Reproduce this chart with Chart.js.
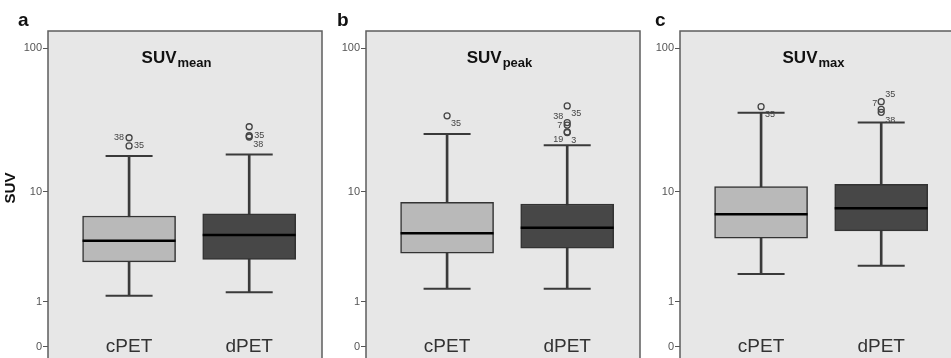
<!DOCTYPE html>
<html>
<head>
<meta charset="utf-8">
<script src="https://cdn.jsdelivr.net/npm/chart.js@4/dist/chart.umd.min.js"></script>
<style>
  html, body { margin: 0; padding: 0; background: #fff; overflow: hidden; }
  #wrap { position: relative; width: 951px; height: 358px; overflow: hidden; }
  canvas { position: absolute; top: 0; }
</style>
</head>
<body>
<div id="wrap">
  <canvas id="panelA" width="323" height="374" style="left:0px"></canvas>
  <canvas id="panelB" width="323" height="374" style="left:318px"></canvas>
  <canvas id="panelC" width="323" height="374" style="left:632px"></canvas>
</div>
<script>
// Gruppen, Panels und Achsenbeschriftung
const categories = ['cPET', 'dPET'];
const panelLetters = ['a', 'b', 'c'];
const panelSubscripts = ['mean', 'peak', 'max'];
const yTicks = [0, 1, 10, 100];

// Boxplots: [unterer Whisker, Q1, Median, Q3, oberer Whisker]
const suvMeanBoxes = [[1.20, 2.71, 4.15, 6.55, 18.1], [1.32, 2.86, 4.63, 6.79, 18.5]];
const suvPeakBoxes = [[1.45, 3.24, 4.78, 8.33, 25.8], [1.45, 3.58, 5.30, 8.09, 21.5]];
const suvMaxBoxes = [[2.08, 4.35, 6.75, 10.9, 36.3], [2.50, 4.99, 7.50, 11.3, 31.0]];

// Ausreißer: [Wert, Fallnummer]
const suvMeanOutliers = [[[24.3, '38'], [21.3, '35']], [[29.0, ''], [25.1, '35'], [24.6, '38']]];
const suvPeakOutliers = [[[34.5, '35']], [[40.4, '35'], [31.0, '38'], [29.8, '7'], [26.7, '19'], [26.4, '3']]];
const suvMaxOutliers = [[[39.9, '35']], [[43.2, '35'], [38.3, '7'], [36.5, '38']]];

// Position der Fallnummern relativ zum Punkt (nur Styling)
const suvMeanLabelPos = [['l', 'r'], ['', 'r', 'rb']];
const suvPeakLabelPos = [['rb'], ['rb', 'la', 'l', 'lb', 'rb']];
const suvMaxLabelPos = [['rb'], ['ra', 'la', 'rb']];
const labelOffsets = { r: [5, 0], l: [-5, 0], rb: [4, 8], lb: [-4, 8], ra: [4, -7], la: [-4, -6] };

const boxColors = ['#b9b9b9', '#474747'];
const FONT = '"Liberation Sans", Arial, sans-serif';

// SPSS "safe log": sign(v) * log10(|v| + 1)
function safeLog(v) {
    return Math.sign(v) * Math.log10(Math.abs(v) + 1);
}

class SafeLogScale extends Chart.LinearScale {
    determineDataLimits() {
        this.min = this.options.min;
        this.max = this.options.max;
    }
    buildTicks() {
        return yTicks.map(v => ({ value: v }));
    }
    configure() {
        super.configure();
        this._fMin = safeLog(this.min);
        this._fMax = safeLog(this.max);
    }
    getPixelForValue(value) {
        return this.getPixelForDecimal((safeLog(value) - this._fMin) / (this._fMax - this._fMin));
    }
    getValueForPixel(pixel) {
        const f = this._fMin + this.getDecimalForPixel(pixel) * (this._fMax - this._fMin);
        return Math.sign(f) * (Math.pow(10, Math.abs(f)) - 1);
    }
}
SafeLogScale.id = 'safelog';
SafeLogScale.defaults = {};
Chart.register(SafeLogScale);

// Rahmen, Titel, Buchstaben und Beschriftungen
const panelDecor = {
    id: 'panelDecor',
    beforeDraw(chart) {
        const { ctx, chartArea: a } = chart;
        ctx.save();
        ctx.fillStyle = '#e7e7e7';
        ctx.fillRect(a.left, a.top, a.right - a.left, a.bottom - a.top);
        ctx.restore();
    },
    afterDraw(chart, args, opts) {
        const { ctx, chartArea: a } = chart;
        ctx.save();
        ctx.strokeStyle = '#5e5e5e';
        ctx.lineWidth = 1.5;
        ctx.strokeRect(a.left, a.top, a.right - a.left, a.bottom - a.top);

        // Panel-Buchstabe
        ctx.fillStyle = '#111';
        ctx.textAlign = 'left';
        ctx.textBaseline = 'alphabetic';
        ctx.font = 'bold 19px ' + FONT;
        ctx.fillText(opts.letter, opts.letterX, 26);

        // Titel SUV + tiefgestellt
        ctx.font = 'bold 17px ' + FONT;
        const w1 = ctx.measureText('SUV').width;
        ctx.font = 'bold 13px ' + FONT;
        const w2 = ctx.measureText(opts.sub).width;
        const x0 = (a.left + a.right) / 2 - opts.titleShift - (w1 + w2) / 2;
        ctx.font = 'bold 17px ' + FONT;
        ctx.fillText('SUV', x0, 63);
        ctx.font = 'bold 13px ' + FONT;
        ctx.fillText(opts.sub, x0 + w1 + 1, 67);

        // Gruppen im Plot
        const xs = chart.scales.x;
        ctx.fillStyle = '#333';
        ctx.textAlign = 'center';
        ctx.font = '19px ' + FONT;
        categories.forEach((c, i) => ctx.fillText(c, xs.getPixelForValue(i + 1), 352));

        // Fallnummern der Ausreißer
        const meta = chart.getDatasetMeta(opts.outlierIndex);
        ctx.font = '9px ' + FONT;
        ctx.fillStyle = '#444';
        ctx.textBaseline = 'middle';
        opts.labels.forEach((lab, k) => {
            const pos = opts.positions[k];
            if (!lab || !pos) return;
            const el = meta.data[k];
            const [dx, dy] = labelOffsets[pos];
            ctx.textAlign = dx > 0 ? 'left' : 'right';
            ctx.fillText(lab, el.x + dx, el.y + dy);
        });

        // y-Achsentitel
        if (opts.yTitle) {
            ctx.translate(11, 188);
            ctx.rotate(-Math.PI / 2);
            ctx.textAlign = 'center';
            ctx.fillStyle = '#111';
            ctx.font = 'bold 15px ' + FONT;
            ctx.fillText(opts.yTitle, 0, 0);
        }
        ctx.restore();
    }
};

function makePanel(canvasId, idx, boxes, outliers, labelPos) {
    const whiskers = boxes.map((b, i) => ({ x: i + 1, y: [b[0], b[4]] }));
    const iqr = boxes.map((b, i) => ({ x: i + 1, y: [b[1], b[3]] }));
    const medians = boxes.map((b, i) => ({ x: i + 1, y: b[2] }));
    const caps = boxes.flatMap((b, i) => [{ x: i + 1, y: b[0] }, { x: i + 1, y: b[4] }]);
    const outPts = outliers.flatMap((list, i) => list.map(o => ({ x: i + 1, y: o[0] })));
    const outLabels = outliers.flatMap(list => list.map(o => o[1]));
    const outPos = labelPos.flat();

    return new Chart(document.getElementById(canvasId), {
        type: 'bar',
        data: {
            datasets: [
                {
                    label: 'whisker', data: whiskers, order: 4, grouped: false,
                    barThickness: 2, backgroundColor: '#3a3a3a', borderWidth: 0
                },
                {
                    label: 'box', data: iqr, order: 3, grouped: false,
                    barThickness: 93, backgroundColor: boxColors,
                    borderColor: '#333', borderWidth: 1.5, borderSkipped: false
                },
                {
                    type: 'scatter', label: 'median', data: medians, order: 2,
                    pointStyle: 'line', pointRadius: 46.5, borderColor: '#000', borderWidth: 2.5
                },
                {
                    type: 'scatter', label: 'caps', data: caps, order: 2,
                    pointStyle: 'line', pointRadius: 23.5, borderColor: '#3a3a3a', borderWidth: 2
                },
                {
                    type: 'scatter', label: 'outliers', data: outPts, order: 1,
                    pointStyle: 'circle', pointRadius: 3, borderColor: '#444',
                    backgroundColor: 'rgba(0,0,0,0)', borderWidth: 1.3
                }
            ]
        },
        options: {
            responsive: false,
            animation: false,
            devicePixelRatio: 1,
            events: [],
            layout: { autoPadding: false, padding: { top: 31, right: 1, bottom: 8, left: 0 } },
            plugins: {
                legend: { display: false },
                tooltip: { enabled: false },
                panelDecor: {
                    letter: panelLetters[idx],
                    letterX: [18, 19, 23][idx],
                    titleShift: [9, 4, 4][idx],
                    sub: panelSubscripts[idx],
                    yTitle: idx === 0 ? 'SUV' : '',
                    outlierIndex: 4,
                    labels: outLabels,
                    positions: outPos
                }
            },
            scales: {
                x: { type: 'linear', min: 0.325, max: 2.606, offset: false, display: false },
                y: {
                    type: 'safelog',
                    min: -0.348,
                    max: 130.9,
                    afterFit(scale) { scale.width = 48; },
                    border: { display: false },
                    grid: { drawOnChartArea: false, drawTicks: true, tickLength: 5, color: '#555' },
                    ticks: {
                        padding: 1,
                        color: '#555',
                        font: { size: 11, family: FONT },
                        callback: v => String(v)
                    }
                }
            }
        },
        plugins: [panelDecor]
    });
}

makePanel('panelA', 0, suvMeanBoxes, suvMeanOutliers, suvMeanLabelPos);
makePanel('panelB', 1, suvPeakBoxes, suvPeakOutliers, suvPeakLabelPos);
makePanel('panelC', 2, suvMaxBoxes, suvMaxOutliers, suvMaxLabelPos);
</script>
</body>
</html>
